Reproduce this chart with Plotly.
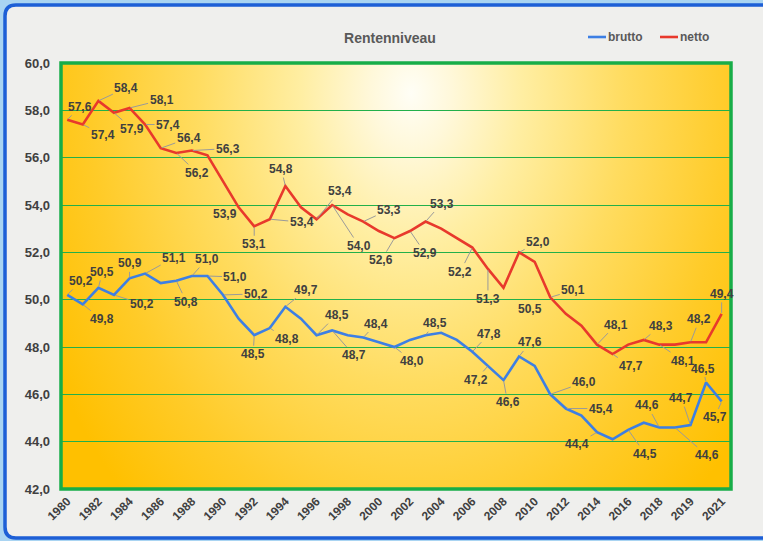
import base64
import plotly.graph_objects as go

# ---------------- data ----------------
categories = [str(y) for y in range(1980, 2019)] + ["2018/19", "2019", "2020", "2021"]
x_tick_labels = ["1980", "1982", "1984", "1986", "1988", "1990", "1992", "1994", "1996",
                 "1998", "2000", "2002", "2004", "2006", "2008", "2010", "2012", "2014",
                 "2016", "2018", "2019", "2021"]
y_tick_values = [42, 44, 46, 48, 50, 52, 54, 56, 58, 60]
series_names = ["brutto", "netto"]

brutto = [50.2, 49.8, 50.5, 50.2, 50.9, 51.1, 50.7, 50.8, 51.0, 51.0,
          50.2, 49.2, 48.5, 48.8, 49.7, 49.2, 48.5, 48.7, 48.5, 48.4,
          48.2, 48.0, 48.3, 48.5, 48.6, 48.3, 47.8, 47.2, 46.6, 47.6,
          47.2, 46.0, 45.4, 45.1, 44.4, 44.1, 44.5, 44.8, 44.6, 44.6,
          44.7, 46.5, 45.7]
netto = [57.6, 57.4, 58.4, 57.9, 58.1, 57.4, 56.4, 56.2, 56.3, 56.1,
         55.0, 53.9, 53.1, 53.4, 54.8, 53.9, 53.4, 54.0, 53.6, 53.3,
         52.9, 52.6, 52.9, 53.3, 53.0, 52.6, 52.2, 51.3, 50.5, 52.0,
         51.6, 50.1, 49.4, 48.9, 48.1, 47.7, 48.1, 48.3, 48.1, 48.1,
         48.2, 48.2, 49.4]

# label placement (pixel offsets of the label from its point) -- styling only
netto_label_offsets = {0: (13, -13), 1: (20, 10), 2: (28, -13), 3: (18, 16), 4: (32, -8),
                       5: (23, 0), 6: (28, -10), 7: (21, 20), 8: (36, -2), 11: (-14, 7),
                       12: (0, 18), 13: (32, 3), 14: (-4, -17), 16: (23, -28), 17: (27, 41),
                       19: (26, -12), 21: (-13, 22), 22: (15, 22), 23: (16, -18), 26: (-12, 24),
                       27: (0, 30), 28: (26, 21), 29: (19, -10), 31: (23, -7), 34: (19, -20),
                       35: (18, 12), 37: (17, -14), 38: (24, 16), 40: (9, -23), 42: (0, -20)}
brutto_label_offsets = {0: (14, -14), 1: (19, 15), 2: (4, -16), 3: (28, 9), 4: (0, -15),
                        5: (29, -16), 7: (10, 21), 8: (15, -17), 9: (28, 1), 10: (33, -1),
                        12: (-1, 19), 13: (17, 11), 14: (21, -17), 16: (20, -20), 17: (22, 25),
                        19: (13, -14), 21: (18, 14), 23: (9, -12), 26: (17, -18), 27: (-12, 14),
                        28: (4, 22), 29: (11, -14), 31: (34, -12), 32: (35, 0), 34: (-20, 12),
                        36: (17, 24), 38: (-12, -22), 39: (32, 28), 40: (-9, -27), 41: (-3, -14),
                        42: (-7, 16)}

BLUE = "#3d7fe4"
RED = "#e8392c"
TEXT = "#404040"
FONT = "Arial, Liberation Sans, sans-serif"

W, H = 763, 541
ML, MR, MT, MB = 61, 32, 63, 52
PW, PH = W - ML - MR, H - MT - MB


def px(xp):
    return (xp - ML) / PW


def py(yp):
    return (H - MB - yp) / PH


fig = go.Figure()
colors = [BLUE, RED]
for name, vals, col in zip(series_names, [brutto, netto], colors):
    fig.add_trace(go.Scatter(x=categories, y=vals, mode="lines", name=name,
                             line=dict(color=col, width=2.6), showlegend=False,
                             hoverinfo="skip"))

annotations = []
for series, offs in ((netto, netto_label_offsets), (brutto, brutto_label_offsets)):
    for i, (ax, ay) in offs.items():
        annotations.append(dict(
            x=i, y=series[i], xref="x", yref="y",
            text="<b>" + f"{series[i]:.1f}".replace(".", ",") + "</b>",
            showarrow=True, arrowhead=0, arrowwidth=1, arrowcolor="#9a9a9a",
            ax=ax, ay=ay, standoff=1, startstandoff=0,
            font=dict(family=FONT, size=12, color=TEXT)))

# manual legend (line sample + text)
legend_x = [588, 660]
shapes = []
for name, col, lx in zip(series_names, colors, legend_x):
    shapes.append(dict(type="line", xref="paper", yref="paper", x0=px(lx), x1=px(lx + 18),
                       y0=py(37), y1=py(37), line=dict(color=col, width=2.6)))
    annotations.append(dict(x=px(lx + 18), y=py(37), xref="paper", yref="paper",
                            xanchor="left", yanchor="middle", showarrow=False,
                            text="<b>" + name + "</b>",
                            font=dict(family=FONT, size=12, color="#595959")))

# radial gradient for plot area background
svg = ('<svg xmlns="http://www.w3.org/2000/svg" width="670" height="426" viewBox="0 0 670 426" '
       'preserveAspectRatio="none"><defs><radialGradient id="g" gradientUnits="userSpaceOnUse" '
       'cx="0" cy="0" r="1" gradientTransform="translate(350 30) scale(410 560)">'
       '<stop offset="0" stop-color="#fffef6"/><stop offset="0.1" stop-color="#fff8da"/>'
       '<stop offset="0.27" stop-color="#ffeea2"/><stop offset="0.52" stop-color="#ffdc60"/>'
       '<stop offset="0.78" stop-color="#ffcb28"/><stop offset="1" stop-color="#ffc000"/>'
       '</radialGradient></defs>'
       '<rect width="670" height="426" fill="url(#g)"/></svg>')
src = "data:image/svg+xml;base64," + base64.b64encode(svg.encode()).decode()


def rounded(x0, y0, x1, y1, r):
    rx, ry = r / PW, r / PH
    X0, X1, Y0, Y1 = px(x0), px(x1), py(y0), py(y1)
    return (f"M{X0 + rx},{Y0} L{X1 - rx},{Y0} Q{X1},{Y0} {X1},{Y0 - ry} "
            f"L{X1},{Y1 + ry} Q{X1},{Y1} {X1 - rx},{Y1} L{X0 + rx},{Y1} "
            f"Q{X0},{Y1} {X0},{Y1 + ry} L{X0},{Y0 - ry} Q{X0},{Y0} {X0 + rx},{Y0} Z")


outer = f"M{px(-2)},{py(-2)} L{px(W + 2)},{py(-2)} L{px(W + 2)},{py(H + 2)} L{px(-2)},{py(H + 2)} Z "
frame = rounded(5, 5, 790, 538, 11)

shapes += [
    dict(type="path", xref="paper", yref="paper", path=outer + frame, fillrule="evenodd",
         fillcolor="#a9d4f2", line=dict(width=0), layer="above"),
    dict(type="path", xref="paper", yref="paper", path=frame,
         line=dict(color="#1d5fd6", width=3.5), layer="above"),
    dict(type="rect", xref="paper", yref="paper", x0=0, y0=0, x1=1, y1=1,
         line=dict(color="#17ad48", width=3.5), layer="above"),
]

fig.update_layout(
    width=W, height=H,
    margin=dict(l=ML, r=MR, t=MT, b=MB, pad=0, autoexpand=False),
    paper_bgcolor="#efefed",
    plot_bgcolor="rgba(0,0,0,0)",
    separators=",.",
    font=dict(family=FONT, color=TEXT),
    title=dict(text="<b>Rentenniveau</b>", x=390 / W, xref="container", xanchor="center",
               y=1 - 38 / H, yref="container", yanchor="middle",
               font=dict(family=FONT, size=14, color="#595959")),
    showlegend=False,
    hovermode=False,
    xaxis=dict(type="category", range=[-0.4, 42.6], tickmode="array",
               tickvals=[categories[i] for i in range(0, len(categories), 2)],
               ticktext=x_tick_labels, tickangle=-45, showgrid=False, zeroline=False,
               showline=False, ticks="", automargin=False, ticklabelstandoff=2,
               tickfont=dict(family=FONT, size=12, color=TEXT, weight="bold")),
    yaxis=dict(range=[42, 60], tickmode="array", tickvals=y_tick_values, tickformat=".1f",
               showgrid=True, gridcolor="#22b04a", gridwidth=1.3, zeroline=False,
               showline=False, ticks="", ticklabelstandoff=10, automargin=False,
               tickfont=dict(family=FONT, size=13, color=TEXT, weight="bold")),
    annotations=annotations,
    shapes=shapes,
    images=[dict(source=src, xref="paper", yref="paper", x=0, y=1, sizex=1, sizey=1,
                 sizing="stretch", xanchor="left", yanchor="top", layer="below")],
)

fig.write_html("out.html", config={"displayModeBar": False},
               post_script="document.body.style.margin='0';document.body.style.overflow='hidden';")
